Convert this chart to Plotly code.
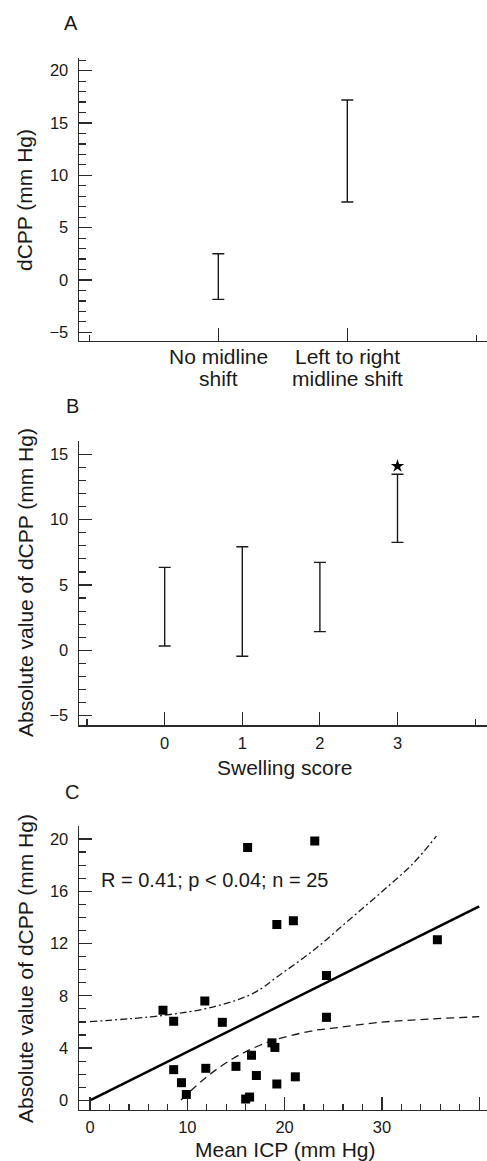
import plotly.graph_objects as go

# ---------------- data ----------------
# Panel A
a_positions = [1, 2]
a_label_line1 = ["No midline", "Left to right"]
a_label_line2 = ["shift", "midline shift"]
a_lower = [-1.85, 7.45]
a_upper = [2.5, 17.2]

# Panel B
b_scores = [0, 1, 2, 3]
b_lower = [0.33, -0.46, 1.43, 8.26]
b_upper = [6.35, 7.93, 6.73, 13.47]
b_star_x = [3]
b_star_y = [14.1]

# Panel C
c_icp = [7.5, 8.6, 11.8, 13.6, 16.2, 23.1, 19.2, 20.9, 35.7, 24.3, 24.3, 18.7,
         19.0, 16.6, 15.0, 11.9, 8.6, 9.4, 9.9, 17.1, 19.2, 21.1, 16.0, 16.4]
c_dcpp = [6.9, 6.05, 7.6, 5.97, 19.35, 19.85, 13.45, 13.75, 12.3, 9.55, 6.35, 4.4,
          4.05, 3.45, 2.6, 2.45, 2.35, 1.35, 0.45, 1.9, 1.25, 1.8, 0.1, 0.25]
c_fit_x = [0, 40]
c_fit_y = [0, 14.85]
c_upper_x = [0, 7.5, 12.7, 16.8, 19.5, 23.0, 26.4, 29.8, 33.2, 35.6]
c_upper_y = [6.02, 6.5, 7.16, 8.2, 9.6, 11.5, 13.66, 15.84, 18.13, 20.22]
c_lower_x = [9.35, 12.0, 14.7, 17.1, 19.5, 23.3, 24.7, 29.8, 34.9, 40]
c_lower_y = [0.02, 1.8, 3.2, 4.1, 4.74, 5.38, 5.5, 5.97, 6.22, 6.4]

# ---------------- layout helpers ----------------
W, H = 487, 1161
FONT = "Liberation Sans, Arial, sans-serif"
AX = "#2a2a2a"
INK = "#1a1a1a"


def px_x(p):
    return p / W


def px_y(p):
    return 1 - p / H


fig = go.Figure()

# Panel A
a_mid = [(lo + hi) / 2 for lo, hi in zip(a_lower, a_upper)]
a_err = [(hi - lo) / 2 for lo, hi in zip(a_lower, a_upper)]
fig.add_trace(go.Scatter(
    x=a_positions, y=a_mid, mode="markers",
    marker=dict(size=1, color="rgba(0,0,0,0)"),
    error_y=dict(type="data", array=a_err, symmetric=True, color=INK,
                 thickness=1.4, width=6),
    xaxis="x", yaxis="y", showlegend=False, hoverinfo="skip"))

# Panel B
b_mid = [(lo + hi) / 2 for lo, hi in zip(b_lower, b_upper)]
b_err = [(hi - lo) / 2 for lo, hi in zip(b_lower, b_upper)]
fig.add_trace(go.Scatter(
    x=b_scores, y=b_mid, mode="markers",
    marker=dict(size=1, color="rgba(0,0,0,0)"),
    error_y=dict(type="data", array=b_err, symmetric=True, color=INK,
                 thickness=1.4, width=6),
    xaxis="x2", yaxis="y2", showlegend=False, hoverinfo="skip"))
fig.add_trace(go.Scatter(
    x=b_star_x, y=b_star_y, mode="markers",
    marker=dict(symbol="star", size=10, color="black"),
    xaxis="x2", yaxis="y2", showlegend=False, hoverinfo="skip"))

# Panel C
fig.add_trace(go.Scatter(
    x=c_upper_x, y=c_upper_y, mode="lines",
    line=dict(color=INK, width=1.3, dash="7px,3px,2px,3px", shape="spline"),
    xaxis="x3", yaxis="y3", showlegend=False, hoverinfo="skip"))
fig.add_trace(go.Scatter(
    x=c_lower_x, y=c_lower_y, mode="lines",
    line=dict(color=INK, width=1.3, dash="8px,5px", shape="spline"),
    xaxis="x3", yaxis="y3", showlegend=False, hoverinfo="skip"))
fig.add_trace(go.Scatter(
    x=c_fit_x, y=c_fit_y, mode="lines",
    line=dict(color="black", width=2.6),
    xaxis="x3", yaxis="y3", showlegend=False, hoverinfo="skip"))
fig.add_trace(go.Scatter(
    x=c_icp, y=c_dcpp, mode="markers",
    marker=dict(symbol="square", size=9, color="black"),
    xaxis="x3", yaxis="y3", showlegend=False, hoverinfo="skip"))

tickfont = dict(family=FONT, size=16.5, color=INK)


def xaxis(rng, **kw):
    d = dict(range=rng, domain=[px_x(79), 1], showline=True, linecolor=AX,
             linewidth=1.4, ticks="inside", ticklen=13, tickwidth=1.2,
             tickcolor=AX, showgrid=False, zeroline=False, tickfont=tickfont,
             fixedrange=True, ticklabelstandoff=2, automargin=False)
    d.update(kw)
    return d


def yaxis(rng, domain, dtick, minor_dtick, **kw):
    d = dict(range=rng, domain=domain, showline=True, linecolor=AX,
             linewidth=1.4, ticks="inside", ticklen=13, tickwidth=1.2,
             tickcolor=AX, showgrid=False, zeroline=False, tickfont=tickfont,
             dtick=dtick, tick0=0,
             minor=dict(ticks="inside", ticklen=7, dtick=minor_dtick, tick0=0,
                        tickcolor=AX, tickwidth=1.2, showgrid=False),
             fixedrange=True, ticklabelstandoff=6, automargin=False)
    d.update(kw)
    return d


domA = [px_y(341), px_y(57.7)]
domB = [px_y(725.3), px_y(441)]
domC = [px_y(1110), px_y(825.7)]

fig.update_layout(
    width=W, height=H,
    margin=dict(l=0, r=0, t=0, b=0, autoexpand=False),
    paper_bgcolor="white", plot_bgcolor="white",
    font=dict(family=FONT, color=INK),
    xaxis=xaxis([-0.08, 3.083], anchor="y",
                tickmode="array", tickvals=a_positions,
                ticktext=["" for _ in a_positions],
                minor=dict(ticks="inside", ticklen=6, tickmode="array",
                           tickvals=[0, 3], tickcolor=AX, tickwidth=1.2)),
    yaxis=yaxis([-5.83, 21.24], domA, 5, 1, anchor="x",
                tickvals=[-5, 0, 5, 10, 15, 20],
                ticktext=["\u22125", "0", "5", "10", "15", "20"], tickmode="array"),
    xaxis2=xaxis([-1.104, 4.153], anchor="y2",
                 tickmode="array", tickvals=b_scores,
                 ticktext=[str(s) for s in b_scores],
                 minor=dict(ticks="inside", ticklen=6, tickmode="array",
                            tickvals=[-1, 4], tickcolor=AX, tickwidth=1.2)),
    yaxis2=yaxis([-5.74, 16.02], domB, 5, 1, anchor="x2",
                 tickvals=[-5, 0, 5, 10, 15],
                 ticktext=["\u22125", "0", "5", "10", "15"], tickmode="array"),
    xaxis3=xaxis([-1.13, 40.8], anchor="y3", dtick=10, tick0=0,
                 minor=dict(ticks="inside", ticklen=6, dtick=2, tick0=0,
                            tickcolor=AX, tickwidth=1.2)),
    yaxis3=yaxis([-0.74, 21.02], domC, 4, 1, anchor="x3"),
)

ann_font = dict(family=FONT, size=21, color=INK)
lab_font = dict(family=FONT, size=20, color=INK)
annotations = [
    dict(text="A", x=px_x(71), y=px_y(23), font=lab_font),
    dict(text="B", x=px_x(72), y=px_y(406), font=lab_font),
    dict(text="C", x=px_x(72), y=px_y(792), font=lab_font),
    dict(text="dCPP (mm Hg)", x=px_x(25), y=px_y(200), textangle=-90, font=ann_font),
    dict(text="Absolute value of dCPP (mm Hg)", x=px_x(25), y=px_y(583),
         textangle=-90, font=ann_font),
    dict(text="Swelling score", x=px_x(284), y=px_y(767), font=ann_font),
    dict(text="Absolute value of dCPP (mm Hg)", x=px_x(25), y=px_y(969),
         textangle=-90, font=ann_font),
    dict(text="Mean ICP (mm Hg)", x=px_x(285), y=px_y(1149), font=ann_font),
    dict(text="R = 0.41; p < 0.04; n = 25", x=px_x(99), y=px_y(880),
         xanchor="left", font=dict(family=FONT, size=20, color=INK)),
]
for a in annotations:
    a.setdefault("xanchor", "center")
    a.update(xref="paper", yref="paper", yanchor="middle", showarrow=False)

# Category labels of panel A, placed through the x axis scale
for pos, l1, l2 in zip(a_positions, a_label_line1, a_label_line2):
    for txt, ypx in ((l1, 356), (l2, 378)):
        annotations.append(dict(text=txt, x=pos, xref="x", y=px_y(ypx), yref="paper",
                                xanchor="center", yanchor="middle", showarrow=False,
                                font=dict(family=FONT, size=21, color=INK)))

fig.update_layout(annotations=annotations)

fig.write_html(
    "out.html",
    config={"displayModeBar": False, "staticPlot": True},
    post_script="document.body.style.margin='0px';document.body.style.overflow='hidden';",
)
